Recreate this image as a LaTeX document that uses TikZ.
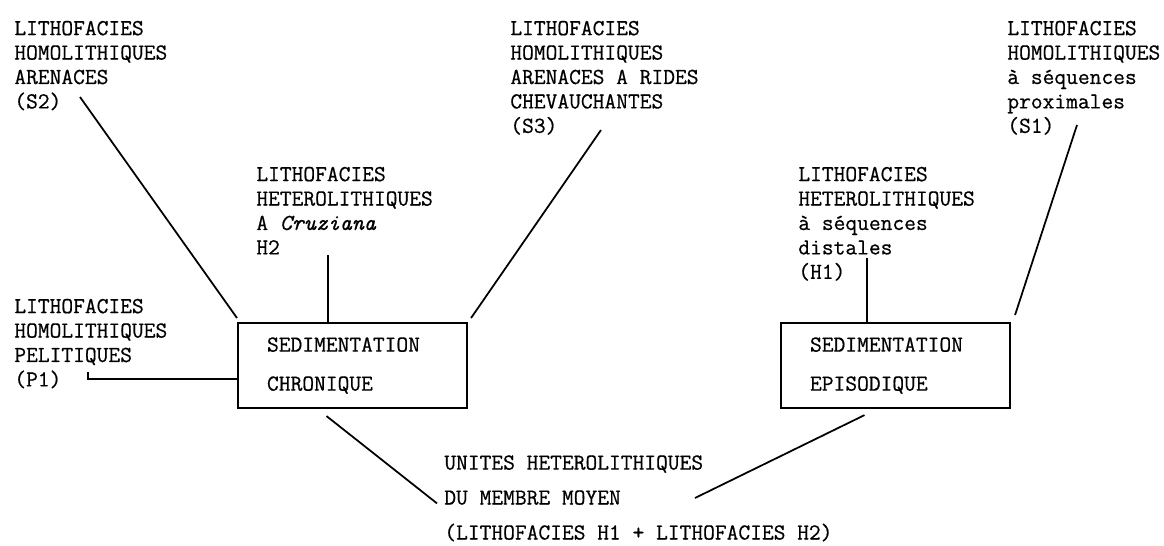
\documentclass[tikz,border=0pt]{standalone}
\usepackage{fontspec}
\setmainfont{Latin Modern Mono}[FakeBold=0.6]
\usepackage{tikz}
\usetikzlibrary{positioning}

\begin{document}
\begin{tikzpicture}[x=0.02cm, y=-0.02cm, font=\fontsize{13}{13.9}\selectfont]

  \tikzstyle{facies} = [anchor=north west, inner sep=0pt, align=left]
  \tikzstyle{sedbox} = [
    draw, line width=1.2pt,
    anchor=north west,
    minimum width=4.58cm, minimum height=1.7cm,
    inner xsep=0.58cm, text width=3.42cm, align=left
  ]
  \tikzstyle{link} = [line width=1pt]

  \useasboundingbox (0,0) rectangle (1164,545);

  % boites de sedimentation
  \node[sedbox] (chron) at (237,322) {SEDIMENTATION\\[8.3pt]CHRONIQUE};
  \node[sedbox] (epis) at (780,322) {SEDIMENTATION\\[8.3pt]EPISODIQUE};

  % lithofacies
  \node[facies] (s2) at (14,20.5)
    {LITHOFACIES\\HOMOLITHIQUES\\ARENACES\\(S2)};
  \node[facies] (h2) at (256,166.5)
    {LITHOFACIES\\HETEROLITHIQUES\\A \textit{Cruziana}\\H2};
  \node[facies] (s3) at (510,20.5)
    {LITHOFACIES\\HOMOLITHIQUES\\ARENACES A RIDES\\CHEVAUCHANTES\\(S3)};
  \node[facies] (p1) at (14,298.5)
    {LITHOFACIES\\HOMOLITHIQUES\\PELITIQUES\\(P1)};
  \node[facies] (h1) at (798,166.5)
    {LITHOFACIES\\HETEROLITHIQUES\\à séquences\\distales\\(H1)};
  \node[facies] (s1) at (1007,20.5)
    {LITHOFACIES\\HOMOLITHIQUES\\à séquences\\proximales\\(S1)};

  \node[facies] (unit) at (444,455)
    {UNITES HETEROLITHIQUES\\[6pt]DU MEMBRE MOYEN\\[6pt](LITHOFACIES H1 + LITHOFACIES H2)};

  % extremites libres
  \coordinate (s2tip) at (80,97);
  \coordinate (h2tip) at (328,255);
  \coordinate (s3tip) at (601,130);
  \coordinate (p1tip) at (88,372);
  \coordinate (h1tip) at (867,258);
  \coordinate (s1tip) at (1077,125);
  \coordinate (unitr) at (695,498);

  \draw[link] (s2tip) -- ([shift={(0,-4)}]chron.north west);
  \draw[link] (h2tip) -- (h2tip |- chron.north);
  \draw[link] (s3tip) -- ([shift={(3,-4)}]chron.north east);
  \draw[link] (p1tip) |- ([yshift=-0.27cm]chron.west);
  \draw[link] ([shift={(-26,7)}]chron.south) -- ([shift={(-7,5)}]unit.west);

  \draw[link] (h1tip) -- (h1tip |- epis.north);
  \draw[link] (s1tip) -- ([shift={(4,-7)}]epis.north east);
  \draw[link] ([shift={(-31,6)}]epis.south) -- (unitr);

\end{tikzpicture}
\end{document}
